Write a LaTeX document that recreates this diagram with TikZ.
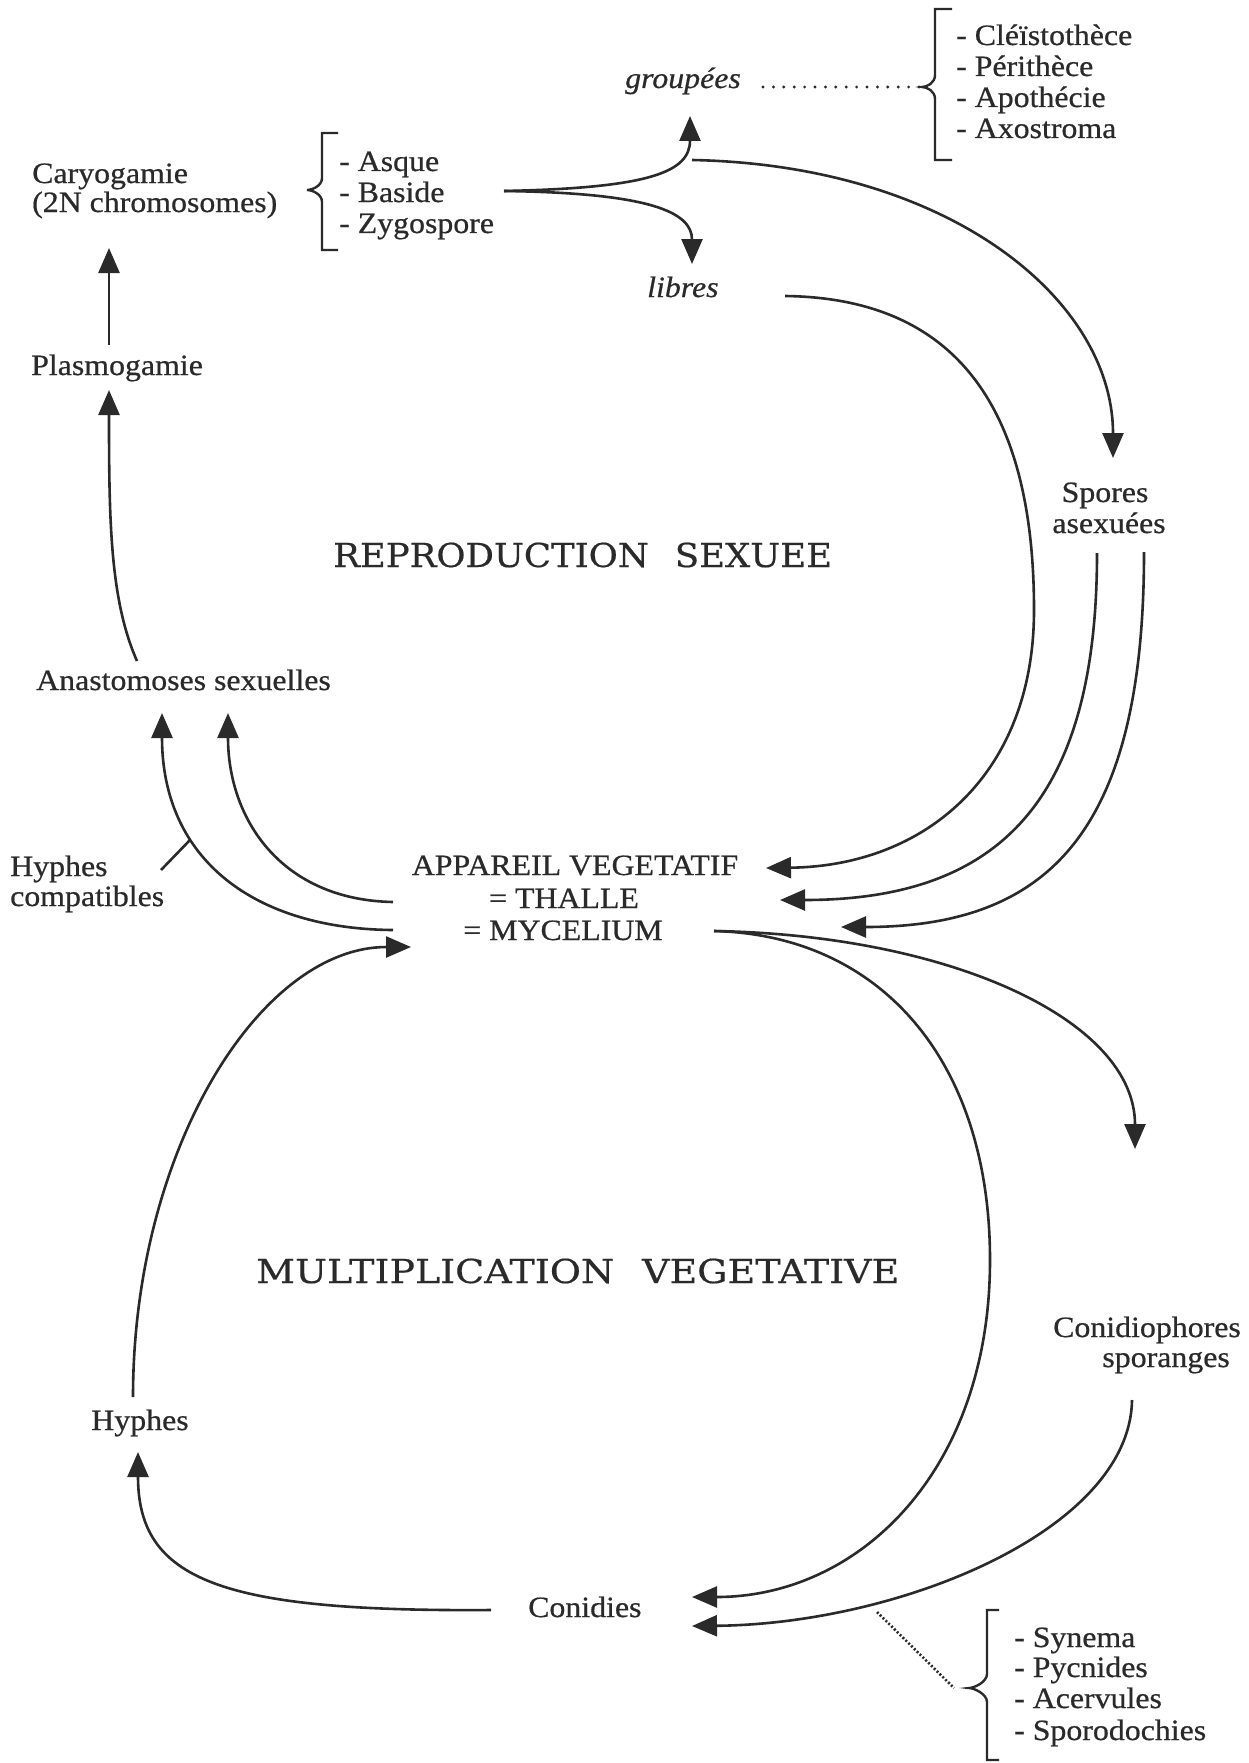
\documentclass[tikz,border=0pt]{standalone}
\usepackage{graphicx}
\usepackage{fontspec}
\setmainfont{Liberation Serif}[FakeStretch=1.08, FakeBold=0.6]
\newfontfamily\headfont{DejaVu Serif}[FakeStretch=1.15, FakeBold=0.5]
\usetikzlibrary{arrows.meta}
\definecolor{ink}{HTML}{2A2A2A}
\begin{document}
\begin{tikzpicture}[x=1pt,y=-1pt,
  txt/.style={inner sep=0pt, font=\fontsize{29.5}{31}\selectfont, text=ink},
  itxt/.style={txt, font=\fontsize{29.5}{31}\selectfont\itshape},
  head/.style={inner sep=0pt, font=\headfont\fontsize{33}{35}\selectfont, text=ink},
  conn/.style={draw=ink, line width=2.6pt, -{Triangle[length=25pt,width=21pt]}},
  plain/.style={draw=ink, line width=2.6pt},
  brk/.style={draw=ink, line width=2.4pt, line join=miter},
  dots/.style={draw=ink, line width=3.2pt, line cap=round, dash pattern=on 0pt off 10.4pt},
  dense/.style={draw=ink, line width=2.6pt, dash pattern=on 2pt off 2pt}]
\useasboundingbox[fill=white] (0,0) rectangle (1249,1763);

% ---- text nodes
\node[txt, anchor=base west] (cary1) at (32,183) {Caryogamie};
\node[txt, anchor=base west] (cary2) at (32,212) {(2N chromosomes)};
\node[txt, anchor=base west] (plasmo) at (31,375) {Plasmogamie};
\node[txt, anchor=base west] (anast) at (36,690) {Anastomoses sexuelles};
\node[txt, anchor=base west] (hc1) at (10,876) {Hyphes};
\node[txt, anchor=base west] (hc2) at (10,906) {compatibles};
\node[txt, anchor=base] (app1) at (575,875) {APPAREIL VEGETATIF};
\node[txt, anchor=base] (app2) at (564,908) {= THALLE};
\node[txt, anchor=base] (app3) at (563,940) {= MYCELIUM};
\node[txt, anchor=base] (hyphes) at (140,1430) {Hyphes};
\node[txt, anchor=base west] (conid) at (528,1617) {Conidies};
\node[txt, anchor=base east] (cph1) at (1241,1337) {Conidiophores};
\node[txt, anchor=base east] (cph2) at (1230,1367) {sporanges};
\node[txt, anchor=base] (sp1) at (1105,502) {Spores};
\node[txt, anchor=base] (sp2) at (1109,533) {asexuées};
\node[itxt, anchor=base west] (grp) at (625,88) {groupées};
\node[itxt, anchor=base west] (lib) at (647,297) {libres};

\node[txt, anchor=base west] (asq) at (339,171) {- Asque};
\node[txt, anchor=base west] (bas) at (339,202) {- Baside};
\node[txt, anchor=base west] (zyg) at (339,233) {- Zygospore};

\node[txt, anchor=base west] (cle) at (956,45) {- Cléïstothèce};
\node[txt, anchor=base west] (per) at (956,76) {- Périthèce};
\node[txt, anchor=base west] (apo) at (956,107) {- Apothécie};
\node[txt, anchor=base west] (axo) at (956,138) {- Axostroma};

\node[txt, anchor=base west] (syn) at (1014,1647) {- Synema};
\node[txt, anchor=base west] (pyc) at (1014,1677) {- Pycnides};
\node[txt, anchor=base west] (ace) at (1014,1708) {- Acervules};
\node[txt, anchor=base west] (spo) at (1014,1740) {- Sporodochies};

\node[head, anchor=base west] (repro) at (333,567)
  {\scalebox{0.935}[1]{REPRODUCTION}\hspace{26pt}\scalebox{0.935}[1]{SEXUEE}};
\node[head, anchor=base west] (multi) at (256,1283) {MULTIPLICATION\hspace{28pt}VEGETATIVE};

% ---- brackets
\draw[brk] (338,133) -- (322,133) -- (322,178) .. controls (322,186) and (312,190) .. (307,190)
  .. controls (312,190) and (322,194) .. (322,202) -- (322,250) -- (338,250);
\draw[brk] (952,9) -- (935,9) -- (935,75) .. controls (935,83) and (927,87) .. (922,87)
  .. controls (927,87) and (935,91) .. (935,99) -- (935,160) -- (952,160);
\draw[brk] (999,1610) -- (987,1610) -- (987,1674) .. controls (987,1682) and (974,1688) .. (969,1688)
  .. controls (974,1688) and (987,1694) .. (987,1702) -- (987,1760) -- (999,1760);

% ---- coordinates
\coordinate (forkS) at (504,191);
\coordinate (grpT) at (690,116);
\coordinate (libT) at (692,264);
\coordinate (grpS) at (692,160);
\coordinate (spT) at (1113,458);
\coordinate (libS) at (785,296);
\coordinate (appT1) at (766,868);
\coordinate (spS1) at (1097,553);
\coordinate (appT2) at (780,900);
\coordinate (spS2) at (1144,552);
\coordinate (appT3) at (841,927);
\coordinate (appL1) at (393,902);
\coordinate (anT2) at (228,713);
\coordinate (appL2) at (393,930);
\coordinate (anT1) at (162,713);
\coordinate (anS) at (137,661);
\coordinate (plT) at (109,390);
\coordinate (plS) at (109,345);
\coordinate (caT) at (109,248);
\coordinate (hyS) at (133,1397);
\coordinate (appT4) at (411,947);
\coordinate (coS) at (491,1610);
\coordinate (hyT) at (138,1452);
\coordinate (myS) at (714,931);
\coordinate (cpT) at (1135,1149);
\coordinate (coT1) at (692,1597);
\coordinate (cpS) at (1132,1400);
\coordinate (coT2) at (692,1626);
\coordinate (hcA) at (161,870);
\coordinate (hcB) at (190,840);
\coordinate (dA) at (763,87);
\coordinate (dB) at (919,87);
\coordinate (eA) at (877,1612);
\coordinate (eB) at (954,1688);

% ---- connectors
\draw[conn] (forkS) .. controls (650,188) and (690,172) .. (grpT);
\draw[conn] (forkS) .. controls (650,193) and (692,212) .. (libT);
\draw[conn] (grpS) .. controls (950,165) and (1113,300) .. (spT);
\draw[conn] (libS) .. controls (950,298) and (1034,400) .. (1034,610)
  .. controls (1034,775) and (925,866) .. (appT1);
\draw[conn] (spS1) .. controls (1097,800) and (1000,900) .. (appT2);
\draw[conn] (spS2) .. controls (1144,830) and (1050,927) .. (appT3);
\draw[conn] (appL1) .. controls (282,900) and (228,820) .. (anT2);
\draw[conn] (appL2) .. controls (255,929) and (162,860) .. (anT1);
\draw[plain] (hcA) -- (hcB);
\draw[conn] (anS) .. controls (110,600) and (109,520) .. (plT);
\draw[conn] (plS) -- (caT);
\draw[conn] (hyS) .. controls (133,1150) and (260,947) .. (appT4);
\draw[conn] (coS) .. controls (220,1612) and (138,1580) .. (hyT);
\draw[conn] (myS) .. controls (950,935) and (1135,1020) .. (cpT);
\draw[conn] (myS) .. controls (880,935) and (990,1060) .. (990,1260)
  .. controls (990,1470) and (860,1597) .. (coT1);
\draw[conn] (cpS) .. controls (1130,1530) and (900,1624) .. (coT2);
\draw[dots] (dA) -- (dB);
\draw[dense] (eA) -- (eB);
\end{tikzpicture}
\end{document}
